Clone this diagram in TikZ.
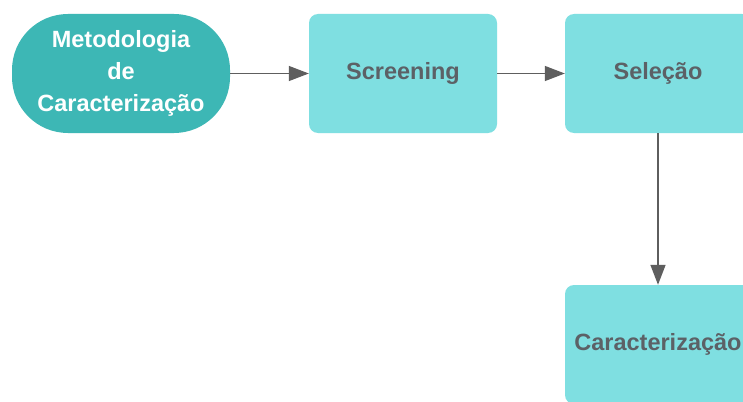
\documentclass[tikz,border=0pt]{standalone}
\usepackage{fontspec}
\setmainfont{Liberation Sans}
\usetikzlibrary{arrows.meta}
\definecolor{tealdark}{HTML}{3DB7B5}
\definecolor{cyanlight}{HTML}{7FDFE1}
\definecolor{labelgray}{HTML}{5C6166}
\definecolor{linkgray}{HTML}{5E5E5E}
\tikzset{
  startbox/.style={fill=tealdark, draw=none, rounded corners=56pt,
    minimum width=218pt, minimum height=119pt, text=white,
    font=\bfseries\fontsize{23.5}{32}\selectfont, align=center, inner sep=0pt},
  stepbox/.style={fill=cyanlight, draw=none, rounded corners=9pt,
    minimum width=188pt, minimum height=119pt, text=labelgray,
    font=\bfseries\fontsize{23.5}{32}\selectfont, align=center, inner sep=0pt},
  link/.style={draw=linkgray, line width=1.4pt,
    -{Triangle[length=20pt,width=15pt]}}
}
\begin{document}
\begin{tikzpicture}[x=1pt, y=-1pt]
  \useasboundingbox (0,0) rectangle (743,401);
  \clip (0,0) rectangle (743,401);
  \fill[white] (0,0) rectangle (743,401);
  \node[startbox] (meto) at (121,73.5) {Metodologia\\de\\Caracterização};
  \node[stepbox] (scr) at (403,73.5) {Screening};
  \node[stepbox, minimum width=186pt] (sel) at (658,73.5) {Seleção};
  \node[stepbox, minimum width=186pt] (car) at (658,344.5) {Caracterização};
  \draw[link] (meto) -- (scr);
  \draw[link] (scr) -- (sel);
  \draw[link] (sel) -- (car);
\end{tikzpicture}
\end{document}
